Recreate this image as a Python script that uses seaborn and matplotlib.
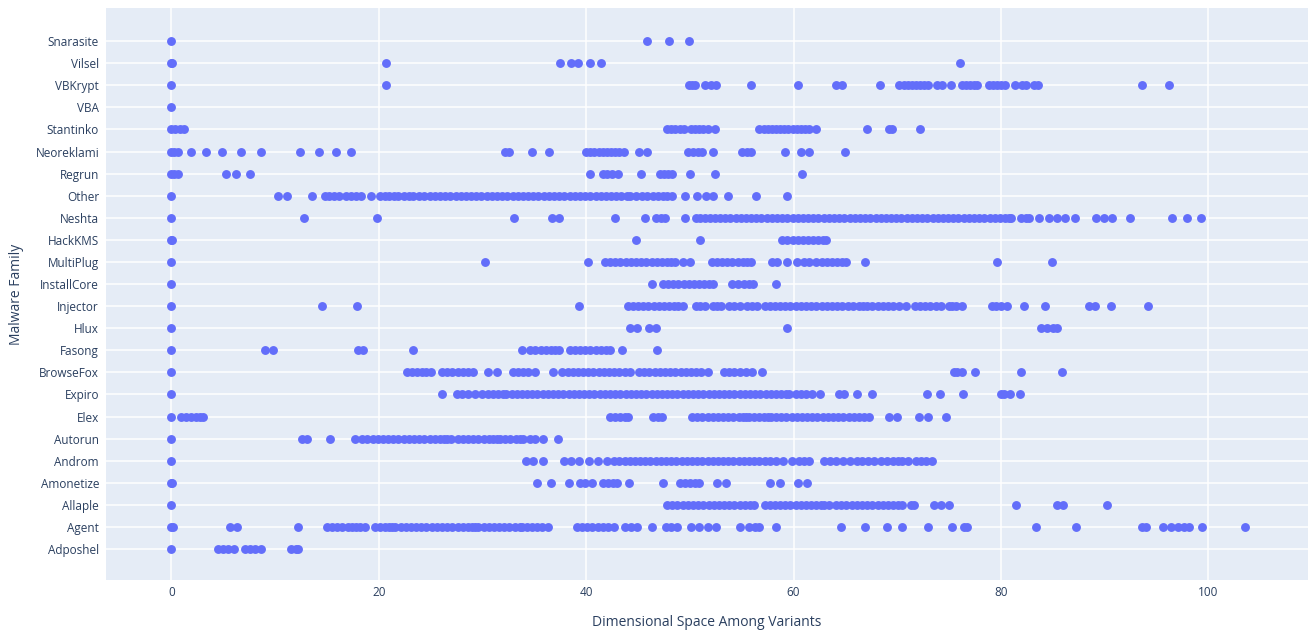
import seaborn as sns
import pandas as pd
import matplotlib.pyplot as plt

# families listed top to bottom, as in the chart
families = ["Snarasite", "Vilsel", "VBKrypt", "VBA", "Stantinko", "Neoreklami", "Regrun",
            "Other", "Neshta", "HackKMS", "MultiPlug", "InstallCore", "Injector", "Hlux",
            "Fasong", "BrowseFox", "Expiro", "Elex", "Autorun", "Androm", "Amonetize",
            "Allaple", "Agent", "Adposhel"]

snarasite = [0, 45.9, 48.0, 49.9]
vilsel = [0, 0.1, 20.7, 37.5, 38.5, 39.2, 40.4, 41.4, 76.0]
vbkrypt = [0, 20.7, 49.9, 50.2, 50.5, 51.5, 52.0, 52.5, 55.9, 60.4, 64.1, 64.7, 68.3, 70.2, 70.6,
           71.0, 71.4, 71.8, 72.2, 72.6, 73.0, 73.8, 74.3, 75.2, 76.2, 76.6, 77.0, 77.4, 77.7,
           78.8, 79.2, 79.6, 80.0, 80.4, 81.3, 82.0, 82.4, 83.2, 83.6, 93.6, 96.2]
vba = [0]
stantinko = [0, 0.4, 0.8, 1.2, 47.8, 48.2, 48.6, 49.0, 49.4, 50.1, 50.5, 50.9, 51.3, 51.7, 52.4,
             56.7, 57.1, 57.5, 57.9, 58.3, 58.7, 59.1, 59.5, 59.9, 60.3, 60.7, 61.1, 61.5, 62.2,
             67.1, 69.2, 69.5, 72.2]
neoreklami = [0, 0.3, 0.6, 1.9, 3.3, 4.9, 6.7, 8.6, 12.4, 14.2, 15.9, 17.3, 32.2, 32.6, 34.8,
              36.4, 40.0, 40.4, 40.8, 41.2, 41.6, 42.0, 42.4, 42.8, 43.2, 43.6, 45.1, 45.9, 49.8,
              50.3, 50.8, 51.2, 52.2, 55.0, 55.5, 55.9, 59.2, 60.7, 61.5, 65.0]
regrun = [0, 0.3, 0.6, 5.3, 6.2, 7.6, 40.4, 41.6, 42.0, 42.5, 43.1, 45.3, 47.1, 47.5, 47.9, 48.3,
          50.0, 52.4, 60.8]
other = [0, 10.3, 11.2, 13.6, 14.8, 15.2, 15.7, 16.2, 16.8, 17.3, 17.8, 18.3, 19.3, 20.1, 20.6,
         21.0, 21.5, 21.9, 22.4, 22.9, 23.3, 23.9, 24.4, 24.9, 25.4, 25.9, 26.4, 26.9, 27.4, 27.9,
         28.4, 28.9, 29.4, 29.9, 30.4, 30.9, 31.4, 31.9, 32.4, 32.9, 33.4, 33.9, 34.4, 34.9, 35.4,
         35.9, 36.4, 36.9, 37.4, 37.9, 38.4, 38.9, 39.4, 39.9, 40.4, 40.9, 41.4, 41.9, 42.4, 42.9,
         43.4, 43.9, 44.2, 44.8, 45.4, 45.9, 46.4, 46.9, 47.4, 47.8, 48.3, 49.5, 50.7, 51.6, 52.2,
         53.7, 56.4, 59.4]
neshta = [0, 12.8, 19.8, 33.0, 36.7, 37.4, 42.8, 45.7, 46.7, 47.2, 47.6, 49.5, 50.6, 51.0, 51.5,
          51.9, 52.4, 52.9, 53.4, 53.9, 54.4, 54.9, 55.4, 55.9, 56.4, 56.9, 57.4, 57.9, 58.4, 58.9,
          59.4, 59.9, 60.4, 60.9, 61.4, 61.9, 62.4, 62.9, 63.4, 63.9, 64.4, 64.9, 65.4, 65.9, 66.4,
          66.9, 67.4, 67.9, 68.4, 68.9, 69.4, 69.9, 70.4, 70.9, 71.4, 71.9, 72.4, 72.9, 73.4, 73.9,
          74.4, 74.9, 75.4, 75.9, 76.4, 76.9, 77.4, 77.9, 78.4, 78.9, 79.4, 79.9, 80.4, 80.8, 81.0,
          81.9, 82.4, 82.7, 83.7, 84.6, 85.4, 86.2, 87.1, 89.2, 89.9, 90.7, 92.4, 96.5, 97.9, 99.3]
hackkms = [0, 0.1, 44.8, 51.0, 58.9, 59.4, 59.9, 60.4, 60.9, 61.4, 61.9, 62.4, 62.8, 63.1]
multiplug = [0, 30.2, 40.2, 41.8, 42.3, 42.8, 43.3, 43.8, 44.3, 44.8, 45.3, 45.8, 46.3, 46.8,
             47.3, 47.8, 48.2, 48.6, 49.3, 50.0, 52.1, 52.6, 53.1, 53.6, 54.1, 54.6, 55.1, 55.5,
             55.9, 57.9, 58.4, 59.4, 60.3, 61.0, 61.5, 62.2, 62.7, 63.2, 63.7, 64.2, 64.7, 65.1,
             66.9, 79.6, 84.9]
installcore = [0, 46.3, 47.4, 47.9, 48.4, 48.9, 49.4, 49.9, 50.4, 50.9, 51.4, 51.8, 52.2, 54.1,
               54.6, 55.2, 55.7, 56.1, 58.3]
injector = [0, 14.5, 17.9, 39.3, 44.0, 44.5, 45.0, 45.5, 46.0, 46.5, 47.0, 47.5, 48.0, 48.5, 48.9,
            49.3, 50.6, 51.0, 51.5, 52.2, 52.6, 53.0, 53.8, 54.3, 54.8, 55.5, 56.0, 56.5, 57.2,
            57.7, 58.2, 58.7, 59.2, 59.7, 60.2, 60.7, 61.2, 61.7, 62.2, 62.7, 63.2, 63.7, 64.2,
            64.7, 65.2, 65.7, 66.3, 66.7, 67.1, 67.6, 68.1, 68.6, 69.1, 69.6, 70.2, 70.8, 71.7,
            72.2, 72.7, 73.2, 73.7, 74.2, 75.0, 75.3, 75.7, 76.2, 79.1, 79.5, 80.0, 80.6, 82.2,
            84.2, 88.5, 89.1, 90.6, 94.2]
hlux = [0, 44.2, 44.9, 46.1, 46.7, 59.4, 83.9, 84.4, 85.0, 85.4]
fasong = [0, 9.0, 9.8, 18.0, 18.5, 23.3, 33.8, 34.6, 35.1, 35.6, 36.1, 36.6, 37.0, 37.4, 38.4,
          38.9, 39.4, 39.9, 40.4, 40.9, 41.4, 41.9, 42.3, 43.5, 46.8]
browsefox = [0, 22.7, 23.2, 23.7, 24.2, 24.6, 25.0, 26.1, 26.6, 27.1, 27.6, 28.1, 28.6, 29.1,
             30.5, 31.4, 32.9, 33.4, 33.9, 34.4, 35.1, 36.8, 37.7, 38.2, 38.7, 39.2, 39.7, 40.2,
             40.7, 41.2, 41.7, 42.2, 42.7, 43.2, 43.7, 44.2, 45.1, 45.6, 46.1, 46.6, 47.1, 47.6,
             48.1, 48.6, 49.1, 49.6, 50.1, 50.6, 51.1, 51.7, 53.3, 53.8, 54.3, 54.8, 55.4, 56.0,
             57.0, 75.5, 75.8, 76.2, 77.5, 81.9, 85.9]
expiro = [0, 26.1, 27.5, 28.0, 28.6, 29.3, 30.0, 30.5, 31.0, 31.5, 32.0, 32.3, 32.8, 33.3, 33.8,
          34.3, 34.8, 35.3, 35.8, 36.3, 36.8, 37.3, 37.8, 38.3, 38.8, 39.3, 39.8, 40.3, 40.8,
          41.3, 41.8, 42.3, 42.8, 43.3, 43.8, 44.3, 44.8, 45.3, 45.8, 46.3, 46.8, 47.3, 47.8,
          48.3, 48.8, 49.3, 49.8, 50.3, 50.8, 51.3, 51.8, 52.3, 52.8, 53.3, 53.8, 54.3, 54.8,
          55.3, 55.8, 56.3, 56.8, 57.3, 57.8, 58.3, 58.8, 59.3, 59.6, 60.2, 60.7, 61.2, 61.8,
          62.5, 64.4, 64.9, 66.1, 67.6, 72.9, 74.1, 76.3, 80.0, 80.3, 80.9, 81.8]
elex = [0, 0.9, 1.4, 1.9, 2.4, 2.8, 3.1, 42.3, 42.8, 43.3, 43.7, 44.0, 46.4, 46.9, 47.3, 50.2,
        50.7, 51.2, 51.7, 52.2, 52.7, 53.2, 53.7, 54.2, 54.7, 55.1, 55.4, 55.7, 56.2, 56.7, 57.1,
        57.5, 57.8, 58.3, 58.8, 59.3, 59.8, 60.3, 60.8, 61.3, 61.8, 62.3, 62.8, 63.3, 63.8, 64.3,
        64.8, 65.3, 65.8, 66.3, 66.8, 67.3, 69.2, 70.0, 72.1, 73.0, 74.7]
autorun = [0, 12.6, 13.1, 15.3, 17.7, 18.4, 18.9, 19.4, 19.9, 20.4, 20.9, 21.4, 21.9, 22.4, 22.9,
           23.4, 23.9, 24.4, 24.9, 25.4, 25.9, 26.3, 26.6, 27.0, 27.6, 28.1, 28.6, 29.1, 29.6,
           30.1, 30.6, 31.0, 31.4, 31.7, 32.2, 32.7, 33.2, 33.6, 33.9, 34.6, 35.1, 35.8, 37.3]
androm = [0, 34.2, 34.9, 35.8, 37.9, 38.5, 39.3, 40.3, 41.1, 42.0, 42.7, 43.2, 43.7, 44.2, 44.7,
          45.2, 45.7, 46.2, 46.7, 47.2, 47.7, 48.2, 48.7, 49.2, 49.7, 50.2, 50.7, 51.2, 51.7, 52.2,
          52.7, 53.2, 53.7, 54.2, 54.7, 55.2, 55.7, 56.2, 56.7, 57.2, 57.7, 58.3, 59.0, 59.8, 60.5,
          61.0, 61.5, 62.9, 63.5, 64.1, 64.8, 65.4, 66.1, 66.6, 67.2, 67.8, 68.4, 69.0, 69.6, 70.1,
          70.5, 71.0, 71.8, 72.3, 72.8, 73.3]
amonetize = [0, 0.1, 35.3, 36.6, 38.3, 39.4, 39.9, 40.6, 41.6, 42.1, 42.6, 43.0, 44.1, 47.4, 49.0,
             49.5, 50.0, 50.5, 50.9, 52.6, 53.5, 57.7, 58.7, 60.4, 61.3]
allaple = [0, 47.8, 48.3, 48.8, 49.3, 49.8, 50.3, 50.8, 51.3, 51.8, 52.3, 52.8, 53.3, 53.8, 54.3,
           54.8, 55.3, 55.8, 56.2, 57.2, 57.7, 58.2, 58.7, 59.2, 59.7, 60.2, 60.7, 61.2, 61.7,
           62.2, 62.6, 62.9, 63.4, 64.1, 64.6, 65.1, 65.6, 66.1, 66.6, 67.1, 67.6, 68.1, 68.6,
           69.1, 69.6, 70.1, 70.5, 71.3, 71.6, 73.5, 74.2, 75.0, 81.4, 85.4, 86.0, 90.2]
agent = [0, 0.2, 5.7, 6.3, 12.2, 15.0, 15.5, 16.0, 16.5, 17.0, 17.4, 17.8, 18.2, 18.7, 19.6, 20.1,
         20.6, 21.0, 21.3, 21.6, 22.1, 22.6, 23.1, 23.6, 24.1, 24.6, 25.1, 25.6, 26.1, 26.6, 27.1,
         27.6, 28.1, 28.6, 29.0, 29.3, 29.6, 30.1, 30.6, 31.1, 31.6, 32.1, 32.6, 33.1, 33.6, 33.8,
         34.3, 34.8, 35.3, 35.7, 36.3, 39.1, 39.6, 40.1, 40.6, 41.1, 41.6, 42.1, 42.7, 43.7, 44.3,
         44.9, 46.3, 47.7, 48.2, 48.8, 50.1, 50.9, 51.7, 52.5, 54.8, 55.7, 56.3, 56.7, 58.3, 64.6,
         66.9, 69.0, 70.5, 73.0, 75.3, 76.4, 76.7, 83.4, 87.2, 93.6, 94.0, 95.6, 96.4, 97.1, 97.6,
         98.1, 99.4, 103.5]
adposhel = [0, 4.5, 5.0, 5.5, 6.0, 7.1, 7.6, 8.1, 8.6, 11.5, 12.0, 12.2]

values = [snarasite, vilsel, vbkrypt, vba, stantinko, neoreklami, regrun, other, neshta,
          hackkms, multiplug, installcore, injector, hlux, fasong, browsefox, expiro, elex,
          autorun, androm, amonetize, allaple, agent, adposhel]

rows = []
for fam, vals in zip(families, values):
    for v in vals:
        rows.append({"Malware Family": fam, "Dimensional Space Among Variants": v})
df = pd.DataFrame(rows)

# plotly-like look
sns.set_style("whitegrid", {"axes.facecolor": "#E5ECF6", "grid.color": "white",
                            "axes.edgecolor": "#E5ECF6"})
plt.rcParams['font.family'] = ['Open Sans', 'DejaVu Sans']

fig = plt.figure(figsize=(13.12, 6.35), dpi=100)
ax = fig.add_axes([106 / 1312, 1 - 580 / 635, (1308 - 106) / 1312, (580 - 8) / 635])

sns.stripplot(data=df, x="Dimensional Space Among Variants", y="Malware Family",
              order=families, jitter=False, color="#636EFA", size=6.4, linewidth=0, ax=ax)

ax.set_xlim(-6.3, 109.6)
ax.set_ylim(24.4, -1.5)
ax.set_xticks([0, 20, 40, 60, 80, 100])
ax.grid(True, color="white", linewidth=1.1)
for s in ax.spines.values():
    s.set_visible(False)
ax.tick_params(length=0, labelsize=8.5, labelcolor="#2a3f5f", pad=5)
ax.tick_params(axis="x", pad=4)
ax.set_xlabel("Dimensional Space Among Variants", fontsize=10, color="#2a3f5f", labelpad=12)
ax.set_ylabel("Malware Family", fontsize=10, color="#2a3f5f", labelpad=8)

fig.savefig("out.png", dpi=100)
